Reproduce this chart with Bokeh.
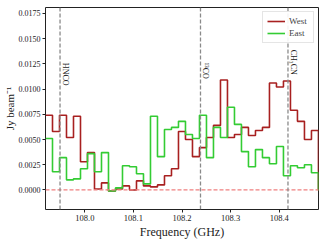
import numpy as np
from bokeh.plotting import figure
from bokeh.models import (ColumnDataSource, Span, FixedTicker, NumeralTickFormatter,
                          Range1d, Legend, LegendItem)
from bokeh.core.properties import value
from bokeh.embed import file_html
from bokeh.resources import INLINE

# channel centre frequencies (GHz)
freq = [107.9263, 107.9407, 107.9551, 107.9695, 107.9839, 107.9983, 108.0127, 108.0271,
        108.0415, 108.0559, 108.0703, 108.0847, 108.0991, 108.1135, 108.1279, 108.1423,
        108.1567, 108.1711, 108.1855, 108.1999, 108.2143, 108.2287, 108.2431, 108.2575,
        108.2719, 108.2863, 108.3007, 108.3151, 108.3295, 108.3439, 108.3583, 108.3727,
        108.3871, 108.4015, 108.4159, 108.4303, 108.4447, 108.4591, 108.4735, 108.4879]

west = [0.0074, 0.0058, 0.0074, 0.0052, 0.0073, 0.0028, 0.0037, 0.0001,
        0.0007, -0.0001, 0.0001, 0.0004, 0.0000, 0.0009, 0.0004, 0.0003,
        0.0005, 0.0014, 0.0021, 0.0058, 0.0050, 0.0033, 0.0042, 0.0052,
        0.0064, 0.0109, 0.0052, 0.0055, 0.0062, 0.0054, 0.0059, 0.0062,
        0.0106, 0.0102, 0.0108, 0.0079, 0.0068, 0.0050, 0.0059, 0.0000]

east = [0.0051, 0.0018, 0.0032, 0.0010, 0.0011, 0.0021, 0.0036, 0.0018,
        0.0037, -0.0001, 0.0002, 0.0024, 0.0023, 0.0016, 0.0006, 0.0073,
        0.0033, 0.0060, 0.0062, 0.0068, 0.0055, 0.0051, 0.0074, 0.0032,
        0.0062, 0.0052, 0.0082, 0.0065, 0.0038, 0.0023, 0.0040, 0.0032,
        0.0026, 0.0043, 0.0014, 0.0024, 0.0022, 0.0025, 0.0017, 0.0000]

line_names = ["HNCO", "¹³CO", "CH₃CN"]
line_freqs = [107.949, 108.238, 108.418]
line_label_y = [0.0126, 0.0126, 0.0139]

x_ticks = [108.0, 108.1, 108.2, 108.3, 108.4]
y_ticks = [0.0, 0.0025, 0.0050, 0.0075, 0.0100, 0.0125, 0.0150, 0.0175]

FONT = "Liberation Serif"

# step edges (left edge of each channel, plus closing right edge)
f = np.array(freq)
half = (f[1] - f[0]) / 2.0
edges = list(f - half) + [f[-1] + half]
west_s = list(west) + [west[-1]]
east_s = list(east) + [east[-1]]

p = figure(frame_width=273, frame_height=202, output_backend="svg", toolbar_location=None,
           x_range=Range1d(107.9191, 108.4808), y_range=Range1d(-0.00194, 0.01809),
           min_border_left=40, min_border_right=8, min_border_top=7, min_border_bottom=0)
p.background_fill_color = "white"
p.border_fill_color = "white"
p.outline_line_color = "#222222"
p.outline_line_width = 1
p.grid.visible = False

# reference lines
p.add_layout(Span(location=0.0, dimension="width", line_color="#f08080",
                  line_dash="4 2", line_width=1.3))
for lf in line_freqs:
    p.add_layout(Span(location=lf, dimension="height", line_color="#8a8a8a",
                      line_dash="4 2", line_width=1.3))

src = ColumnDataSource(dict(x=edges, w=west_s, e=east_s))
rw = p.step("x", "w", source=src, mode="after", line_color="#a82020", line_width=1.6)
re = p.step("x", "e", source=src, mode="after", line_color="#33cc33", line_width=1.6)

p.text(x=line_freqs, y=line_label_y, text=line_names, angle=-np.pi / 2,
       text_align="left", text_baseline="bottom", x_offset=1,
       text_font=value(FONT), text_font_size="8px", text_color="#222222")

legend = Legend(items=[LegendItem(label="West", renderers=[rw]),
                       LegendItem(label="East", renderers=[re])],
                location="top_right")
legend.label_text_font = FONT
legend.label_text_font_size = "9px"
legend.glyph_width = 18
legend.glyph_height = 10
legend.label_height = 10
legend.label_standoff = 4
legend.spacing = 2
legend.padding = 4
legend.margin = 4
legend.border_line_color = "#cccccc"
legend.border_line_width = 1
legend.background_fill_alpha = 0.9
p.add_layout(legend)

for ax in (p.xaxis[0], p.yaxis[0]):
    ax.major_label_text_font = FONT
    ax.major_label_text_color = "#222222"
    ax.axis_label_text_font = FONT
    ax.axis_label_text_font_style = "normal"
    ax.axis_label_text_color = "#222222"
    ax.axis_line_color = None
    ax.major_tick_line_color = "#222222"
    ax.major_tick_out = 3
    ax.major_tick_in = 0
    ax.minor_tick_line_color = None
    ax.major_label_standoff = 2

p.xaxis.ticker = FixedTicker(ticks=x_ticks)
p.xaxis.formatter = NumeralTickFormatter(format="0.0")
p.xaxis.axis_label = "Frequency (GHz)"
p.xaxis.major_label_text_font_size = "8.5px"
p.xaxis.axis_label_text_font_size = "12px"
p.xaxis.axis_label_standoff = 1
p.yaxis.ticker = FixedTicker(ticks=y_ticks)
p.yaxis.formatter = NumeralTickFormatter(format="0.0000")
p.yaxis.axis_label = "Jy beam⁻¹"
p.yaxis.major_label_text_font_size = "8px"
p.yaxis.axis_label_text_font_size = "11px"
p.yaxis.axis_label_standoff = 0

open("out.html", "w").write(file_html(p, INLINE))
